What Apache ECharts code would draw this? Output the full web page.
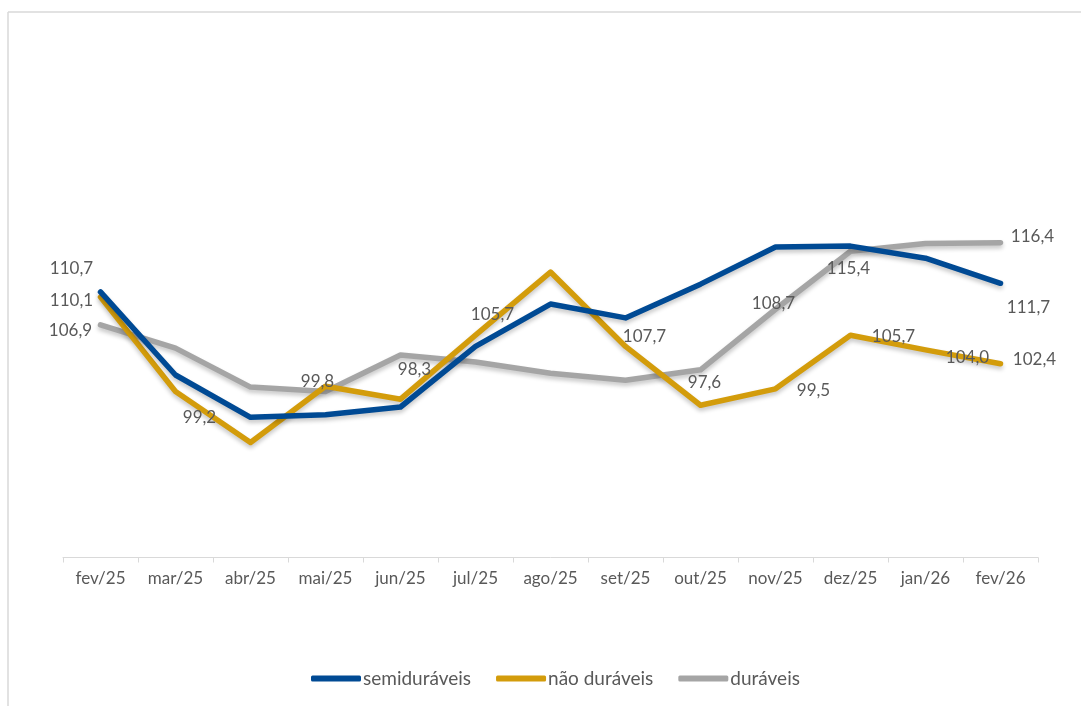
<!DOCTYPE html>
<html>
<head>
<meta charset="utf-8">
<script src="https://cdn.jsdelivr.net/npm/echarts@6/dist/echarts.min.js"></script>
<style>
  html, body { margin: 0; padding: 0; background: #fff; }
  #chart { width: 1081px; height: 706px; }
</style>
</head>
<body>
<div id="chart"></div>
<script>
const months = ['fev/25', 'mar/25', 'abr/25', 'mai/25', 'jun/25', 'jul/25', 'ago/25',
    'set/25', 'out/25', 'nov/25', 'dez/25', 'jan/26', 'fev/26']

const semiduraveis = [110.7, 101.1, 96.2, 96.5, 97.4, 104.4, 109.3, 107.7, 111.6, 115.9, 116.0, 114.6, 111.7]
const naoDuraveis = [110.1, 99.2, 93.3, 99.8, 98.3, 105.7, 113.0, 104.4, 97.6, 99.5, 105.7, 104.0, 102.4]
const duraveis = [106.9, 104.2, 99.7, 99.2, 103.4, 102.6, 101.3, 100.5, 101.7, 108.7, 115.4, 116.3, 116.4]

// which points carry a value label (month indexes)
const semiLabelled = [0, 7, 12]
const naoLabelled = [0, 1, 3, 4, 5, 8, 9, 10, 11, 12]
const durLabelled = [0, 9, 10, 12]

// label offsets from the point, px (hand placed like the original)
const labelOffsets = {
    semi: { 0: [-29, -23], 7: [19, 19], 12: [28, 24] },
    nao: { 0: [-29, 3], 1: [24, 26], 3: [-8, -5], 4: [14, -30], 5: [17, -21],
        8: [4, -23], 9: [38, 2], 10: [43, 1], 11: [42, 8], 12: [34, -4] },
    dur: { 0: [-30, 6], 9: [-2, -6], 10: [-2, 17], 12: [32, -6] },
}

const fmt = (v) => v.toFixed(1).replace('.', ',')

const buildData = (values, labelled, offsets) => values.map((v, i) => {
    if (labelled.indexOf(i) < 0) return v
    return {
        value: v,
        label: {
            show: true,
            position: offsets[i],
            align: 'center',
            verticalAlign: 'middle',
            formatter: () => fmt(v),
        },
    }
})

const lineSeries = (name, color, values, labelled, offsets, z) => ({
    name: name,
    type: 'line',
    symbol: 'circle',
    symbolSize: 0,
    showSymbol: true,
    z: z,
    lineStyle: {
        width: 5.5,
        color: color,
        cap: 'round',
        join: 'round',
        shadowColor: 'rgba(0,0,0,0.22)',
        shadowBlur: 4,
        shadowOffsetY: 3,
    },
    itemStyle: { color: color },
    label: {
        show: false,
        fontFamily: 'Lato',
        fontSize: 17,
        color: '#595959',
    },
    labelLayout: { hideOverlap: false },
    emphasis: { disabled: true },
    data: buildData(values, labelled, offsets),
})

const chart = echarts.init(document.getElementById('chart'))

const option = {
    animation: false,
    backgroundColor: '#fff',
    grid: { left: 63, right: 43, top: 38.5, bottom: 148.5 },
    xAxis: {
        type: 'category',
        data: months,
        boundaryGap: true,
        axisLine: { lineStyle: { color: '#d9d9d9', width: 1 } },
        axisTick: { show: true, length: 5, lineStyle: { color: '#d9d9d9' } },
        axisLabel: {
            fontFamily: 'Lato',
            fontSize: 17,
            color: '#595959',
            margin: 13,
            interval: 0,
        },
    },
    yAxis: {
        type: 'value',
        min: 80,
        max: 140,
        interval: 10,
        show: false,
        splitLine: { show: false },
    },
    legend: {
        bottom: 13,
        left: 306,
        itemWidth: 50,
        itemHeight: 6,
        itemGap: 25,
        textStyle: { fontFamily: 'Lato', fontSize: 19, color: '#595959', padding: [0, 0, 0, -3] },
        data: [
            { name: 'semiduráveis', icon: 'roundRect' },
            { name: 'não duráveis', icon: 'roundRect' },
            { name: 'duráveis', icon: 'roundRect' },
        ],
    },
    graphic: [
        { type: 'line', shape: { x1: 8, y1: 12, x2: 1081, y2: 12 }, style: { stroke: '#d9d9d9', lineWidth: 1.5 } },
        { type: 'line', shape: { x1: 8, y1: 12, x2: 8, y2: 706 }, style: { stroke: '#d9d9d9', lineWidth: 1.5 } },
    ],
    series: [
        lineSeries('duráveis', '#a5a5a5', duraveis, durLabelled, labelOffsets.dur, 2),
        lineSeries('não duráveis', '#d39c0b', naoDuraveis, naoLabelled, labelOffsets.nao, 3),
        lineSeries('semiduráveis', '#004a94', semiduraveis, semiLabelled, labelOffsets.semi, 4),
    ],
}

chart.setOption(option)
</script>
</body>
</html>
